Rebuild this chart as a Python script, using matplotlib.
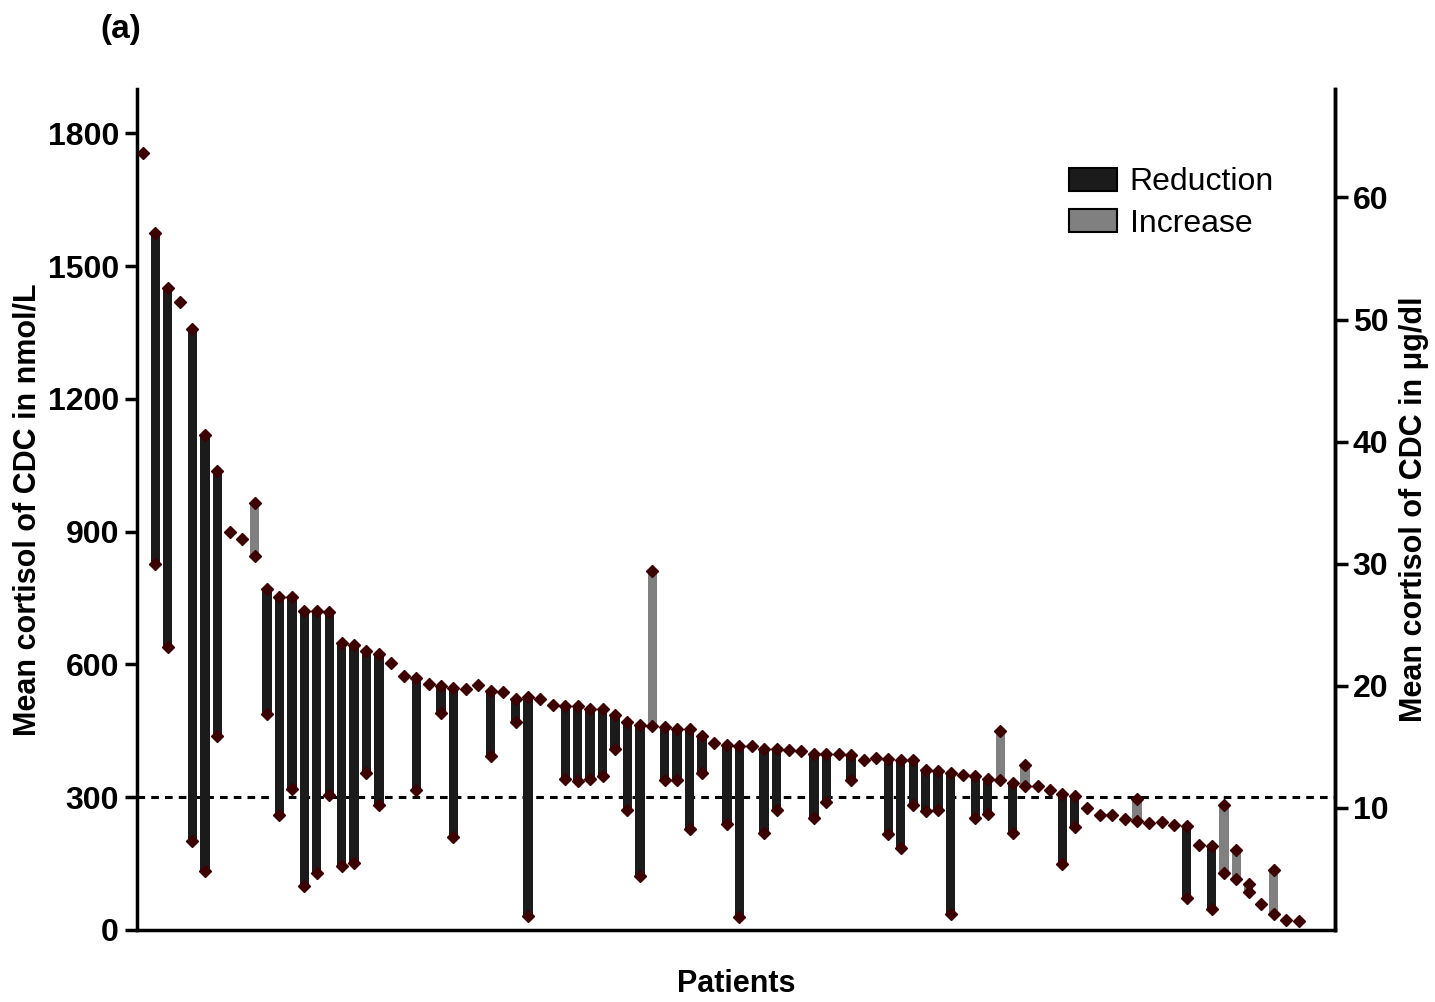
import numpy as np
import matplotlib.pyplot as plt
from matplotlib.patches import Patch

plt.rcParams['font.family'] = ['Liberation Sans', 'DejaVu Sans']

# cortisol of CDC (nmol/L) before and after; nan = no follow-up value
baseline = [1756, 1575, 1450, 1420, 1359, 1118, 1038, 900, 883, 844,
            770, 753, 753, 721, 721, 719, 649, 644, 630, 624,
            603, 575, 570, 556, 552, 547, 545, 553, 539, 538,
            523, 526, 521, 508, 507, 506, 500, 500, 485, 470,
            463, 461, 459, 455, 453, 438, 423, 419, 415, 415,
            409, 409, 406, 404, 397, 397, 397, 396, 385, 389,
            387, 384, 384, 361, 359, 355, 350, 348, 341, 338,
            333, 325, 325, 317, 307, 303, 276, 259, 259, 250,
            247, 242, 245, 238, 234, 192, 190, 129, 115, 86,
            59, 37, 22, 20]
nan = np.nan
after = [nan, 826, 639, nan, 200, 134, 439, nan, nan, 965,
         488, 259, 319, 99, 128, 305, 144, 152, 355, 282,
         nan, nan, 317, nan, 491, 210, nan, nan, 393, nan,
         470, 32, nan, nan, 341, 336, 342, 348, 409, 272,
         121, 811, 338, 338, 229, 355, nan, 240, 29, nan,
         218, 272, nan, nan, 252, 289, nan, 338, nan, nan,
         216, 185, 282, 268, 271, 35, nan, 253, 262, 449,
         219, 372, nan, nan, 149, 233, nan, nan, nan, nan,
         295, nan, nan, nan, 72, nan, 47, 282, 180, 104,
         nan, 136, nan, nan]

NMOL_PER_UGDL = 27.59
reduction_color = '#1b1b1b'
increase_color = '#808080'
marker_color = '#3d0000'

base = np.array(baseline, dtype=float)
post = np.array(after, dtype=float)
x = np.arange(1, len(base) + 1)
has_post = ~np.isnan(post)
down = has_post & (post < base)
up = has_post & (post >= base)

fig = plt.figure(figsize=(14.35, 10.02), dpi=100)
ax = fig.add_axes([0.0955, 0.0719, 0.8345, 0.8391])

ax.bar(x[down], post[down] - base[down], bottom=base[down], width=0.75,
       color=reduction_color, zorder=2)
ax.bar(x[up], post[up] - base[up], bottom=base[up], width=0.75,
       color=increase_color, zorder=2)
ax.plot(x, base, 'D', ms=6.5, color=marker_color, ls='none', zorder=3)
ax.plot(x[has_post], post[has_post], 'D', ms=6.5, color=marker_color,
        ls='none', zorder=3)

ax.axhline(300, color='black', ls=(0, (2.5, 2)), lw=2.2, zorder=1)

ax.set_xlim(0.54, 96.9)
ax.set_ylim(0, 1900)
ax.set_xticks([])
ax.set_yticks([0, 300, 600, 900, 1200, 1500, 1800])
for s in ['left', 'bottom', 'right']:
    ax.spines[s].set_linewidth(2.5)
ax.spines['top'].set_visible(False)
ax.tick_params(axis='y', direction='out', length=9, width=2.5,
               labelsize=23, pad=4)
for lab in ax.get_yticklabels():
    lab.set_fontweight('bold')

ax.set_ylabel('Mean cortisol of CDC in nmol/L', fontsize=22,
              fontweight='bold', labelpad=4)
ax.set_xlabel('Patients', fontsize=22, fontweight='bold', labelpad=28)

ax2 = ax.twinx()
ax2.set_ylim(0, 1900 / NMOL_PER_UGDL)
ax2.set_yticks([10, 20, 30, 40, 50, 60])
ax2.spines['top'].set_visible(False)
ax2.spines['right'].set_linewidth(2.5)
ax2.tick_params(axis='y', direction='out', length=9, width=2.5,
                labelsize=23, pad=4)
for lab in ax2.get_yticklabels():
    lab.set_fontweight('bold')
ax2.set_ylabel('Mean cortisol of CDC in μg/dl', fontsize=22,
               fontweight='bold', labelpad=8)

handles = [Patch(facecolor=reduction_color, edgecolor='black', lw=1.5,
                 label='Reduction'),
           Patch(facecolor=increase_color, edgecolor='black', lw=1.5,
                 label='Increase')]
ax.legend(handles=handles, loc='upper left', bbox_to_anchor=(0.765, 0.926),
          frameon=False, fontsize=23, handlelength=1.5, handleheight=0.75,
          handletextpad=0.4, labelspacing=0.35, borderpad=0)

fig.text(0.0843, 0.971, '(a)', fontsize=24, fontweight='bold',
         ha='center', va='center')

fig.savefig('out.png', dpi=100)
